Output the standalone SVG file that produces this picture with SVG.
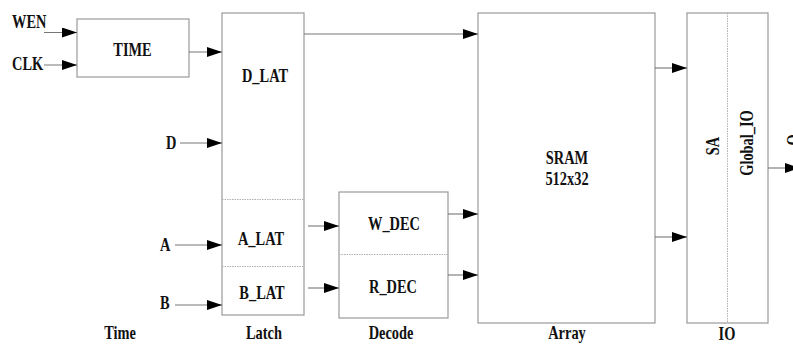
<svg xmlns="http://www.w3.org/2000/svg" width="793" height="344" viewBox="0 0 793 344">
  <style>
    .box { fill: #fff; stroke: #9a9a9a; stroke-width: 1.2; }
    .div { stroke: #b0b0b0; stroke-width: 1; stroke-dasharray: 1.5 1; fill: none; }
    .wire { stroke: #777; stroke-width: 1.1; fill: none; marker-end: url(#head); }
    text { font-family: "Liberation Serif", "Times New Roman", serif; font-weight: bold; font-size: 18px; fill: #111; }
    .c { text-anchor: middle; }
  </style>
  <defs>
    <marker id="head" viewBox="0 0 15 10" refX="15" refY="5" markerWidth="15" markerHeight="10" markerUnits="userSpaceOnUse" orient="auto">
      <path d="M0,0 L15,5 L0,10 Z" fill="#000"/>
    </marker>
  </defs>

  <!-- labels use a narrow, tall bold serif: 18px scaled to 80% width -->
  <g id="time">
    <rect class="box" x="77" y="19" width="112" height="58"/>
    <text class="c" transform="translate(132.5,56) scale(0.8,1)">TIME</text>
  </g>

  <g id="latch">
    <rect class="box" x="222" y="13" width="82" height="302"/>
    <line class="div" x1="222" y1="199.5" x2="304" y2="199.5"/>
    <line class="div" x1="222" y1="266.5" x2="304" y2="266.5"/>
    <text class="c" transform="translate(265,82) scale(0.8,1)">D_LAT</text>
    <text class="c" transform="translate(261,245) scale(0.8,1)">A_LAT</text>
    <text class="c" transform="translate(262,299) scale(0.8,1)">B_LAT</text>
  </g>

  <g id="decode">
    <rect class="box" x="339" y="192" width="109" height="126"/>
    <line class="div" x1="339" y1="254.5" x2="448" y2="254.5"/>
    <text class="c" transform="translate(394,230) scale(0.8,1)">W_DEC</text>
    <text class="c" transform="translate(393,293) scale(0.8,1)">R_DEC</text>
  </g>

  <g id="array">
    <rect class="box" x="478" y="13" width="177" height="310"/>
    <text class="c" transform="translate(567,164) scale(0.8,1)">SRAM</text>
    <text class="c" transform="translate(567,185) scale(0.8,1)">512x32</text>
  </g>

  <g id="io">
    <rect class="box" x="687" y="13" width="81" height="310"/>
    <line class="div" x1="727.5" y1="13" x2="727.5" y2="323"/>
    <text class="c" transform="translate(719,146) rotate(-90) scale(0.8,1)">SA</text>
    <text class="c" transform="translate(753,143) rotate(-90) scale(0.8,1)">Global_IO</text>
  </g>

  <g id="signals">
    <text transform="translate(12,28) scale(0.8,1)">WEN</text>
    <text transform="translate(12,70) scale(0.8,1)">CLK</text>
    <text transform="translate(166,149) scale(0.8,1)">D</text>
    <text transform="translate(160,251) scale(0.8,1)">A</text>
    <text transform="translate(160,309) scale(0.8,1)">B</text>
    <text class="c" transform="translate(800,140) rotate(-90) scale(0.8,1)">Q</text>
  </g>

  <g id="stage-labels">
    <text class="c" transform="translate(120,339) scale(0.8,1)">Time</text>
    <text class="c" transform="translate(264,339) scale(0.8,1)">Latch</text>
    <text class="c" transform="translate(391,339) scale(0.8,1)">Decode</text>
    <text class="c" transform="translate(567,339) scale(0.8,1)">Array</text>
    <text class="c" transform="translate(727,340) scale(0.8,1)">IO</text>
  </g>

  <g id="connectors">
    <line class="wire" x1="44" y1="32.5" x2="77" y2="32.5"/>
    <line class="wire" x1="44" y1="65" x2="77" y2="65"/>
    <line class="wire" x1="189" y1="52" x2="222" y2="52"/>
    <line class="wire" x1="304" y1="34" x2="478" y2="34"/>
    <line class="wire" x1="180" y1="143" x2="222" y2="143"/>
    <line class="wire" x1="175" y1="245" x2="222" y2="245"/>
    <line class="wire" x1="175" y1="305" x2="222" y2="305"/>
    <line class="wire" x1="308" y1="226" x2="339" y2="226"/>
    <line class="wire" x1="308" y1="288" x2="339" y2="288"/>
    <line class="wire" x1="448" y1="214" x2="478" y2="214"/>
    <line class="wire" x1="448" y1="275" x2="478" y2="275"/>
    <line class="wire" x1="655" y1="68" x2="687" y2="68"/>
    <line class="wire" x1="655" y1="237" x2="687" y2="237"/>
    <line class="wire" x1="768" y1="168" x2="800" y2="168"/>
  </g>
</svg>
